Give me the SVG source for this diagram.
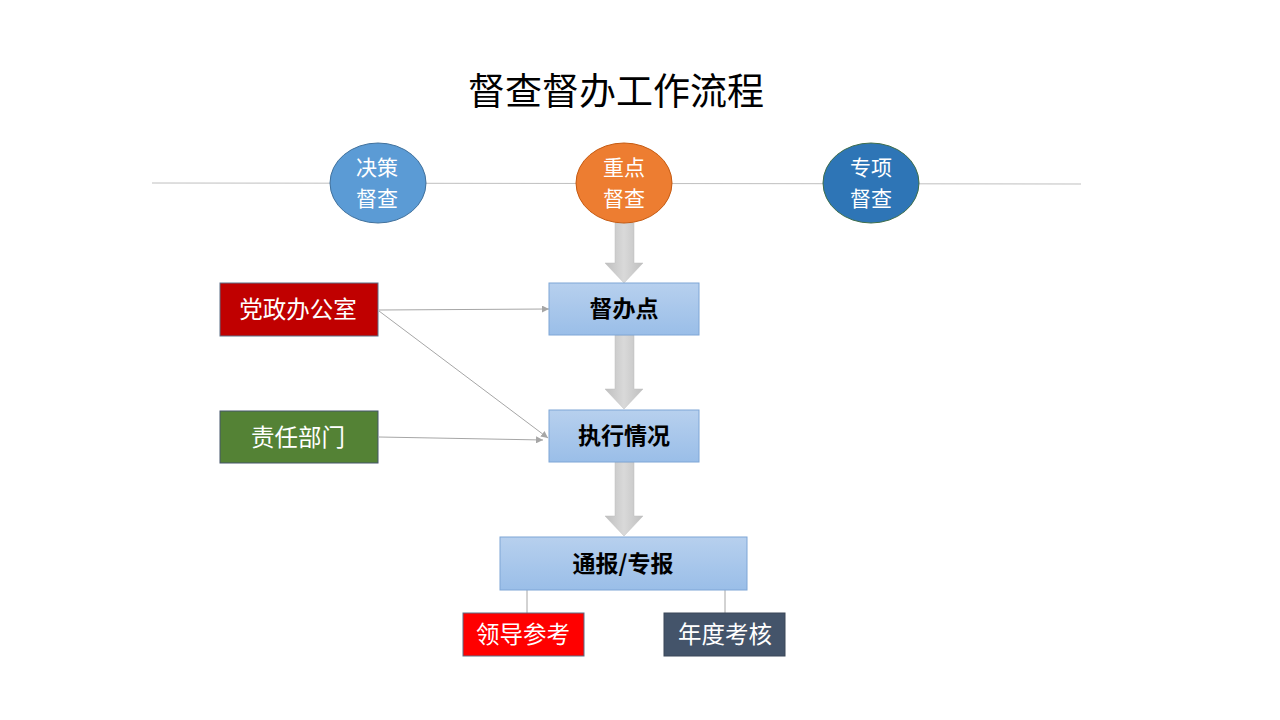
<svg xmlns="http://www.w3.org/2000/svg" width="1280" height="720" viewBox="0 0 1280 720">
<defs>
<linearGradient id="boxg" x1="0" y1="0" x2="0" y2="1">
<stop offset="0" stop-color="#B7D0EE"/>
<stop offset="1" stop-color="#9ABEE8"/>
</linearGradient>
<linearGradient id="arrg" x1="0" y1="0" x2="1" y2="0">
<stop offset="0" stop-color="#BFBFBF"/>
<stop offset="0.5" stop-color="#D9D9D9"/>
<stop offset="1" stop-color="#BFBFBF"/>
</linearGradient>
<marker id="ah" viewBox="0 0 10 10" refX="10" refY="5" markerWidth="7" markerHeight="7" markerUnits="userSpaceOnUse" orient="auto">
<path d="M0,0 L10,5 L0,10 z" fill="#A6A6A6"/>
</marker>
</defs>
<style>
.cjk{font-family:"Noto Sans CJK SC","Liberation Sans",sans-serif;}
.wt{fill:#FFFFFF;font-size:23.5px;}
.et{fill:#FFFFFF;font-size:21px;}
.bt{fill:#000000;font-size:23px;font-weight:bold;}
.box{fill:url(#boxg);stroke:#7EA6D6;stroke-width:1;}
.conn{stroke:#A6A6A6;stroke-width:1;fill:none;}
.big{fill:url(#arrg);stroke:#BFBFBF;stroke-width:0.5;}
</style>
<rect width="1280" height="720" fill="#FFFFFF"/>
<text x="616" y="105" text-anchor="middle" class="cjk" font-size="37" fill="#000000">督查督办工作流程</text>

<g id="connectors">
<line x1="152" y1="183" x2="1081" y2="184" stroke="#BFBFBF" stroke-width="1"/>
<path class="big" d="M615,223 L634,223 L634,263 L643,263 L624,283 L605,263 L615,263 z"/>
<path class="big" d="M615,335 L634,335 L634,389 L643,389 L624,409 L605,389 L615,389 z"/>
<path class="big" d="M615,462 L634,462 L634,516 L643,516 L624,536 L605,516 L615,516 z"/>
<line class="conn" x1="379" y1="310" x2="549" y2="309" marker-end="url(#ah)"/>
<line class="conn" x1="379" y1="311" x2="548" y2="438" marker-end="url(#ah)"/>
<line class="conn" x1="379" y1="437" x2="543" y2="440" marker-end="url(#ah)"/>
<line class="conn" x1="527" y1="590" x2="527" y2="613"/>
<line class="conn" x1="725" y1="590" x2="725" y2="613"/>
</g>

<g id="n-juece">
<ellipse cx="378" cy="183" rx="48" ry="40" fill="#5B9BD5" stroke="#41719C" stroke-width="1"/>
<text text-anchor="middle" class="cjk et"><tspan x="377" y="175">决策</tspan><tspan x="377" y="206">督查</tspan></text>
</g>
<g id="n-zhongdian">
<ellipse cx="624" cy="183" rx="48" ry="40" fill="#ED7D31" stroke="#C55A11" stroke-width="1"/>
<text text-anchor="middle" class="cjk et"><tspan x="624" y="175">重点</tspan><tspan x="624" y="206">督查</tspan></text>
</g>
<g id="n-zhuanxiang">
<ellipse cx="871" cy="183" rx="48" ry="40" fill="#2E75B6" stroke="#3F6E4A" stroke-width="1"/>
<text text-anchor="middle" class="cjk et"><tspan x="871" y="175">专项</tspan><tspan x="871" y="206">督查</tspan></text>
</g>

<g id="n-dangzheng">
<rect x="220" y="283" width="158" height="53" fill="#C00000" stroke="#5A6E86" stroke-width="1"/>
<text x="298" y="318" text-anchor="middle" class="cjk wt">党政办公室</text>
</g>
<g id="n-zeren">
<rect x="220" y="411" width="158" height="52" fill="#548235" stroke="#44546A" stroke-width="1"/>
<text x="298" y="446" text-anchor="middle" class="cjk wt">责任部门</text>
</g>

<g id="n-duban">
<rect class="box" x="549" y="283" width="150" height="52"/>
<text x="624" y="317" text-anchor="middle" class="cjk bt">督办点</text>
</g>
<g id="n-zhixing">
<rect class="box" x="549" y="410" width="150" height="52"/>
<text x="624" y="444" text-anchor="middle" class="cjk bt">执行情况</text>
</g>
<g id="n-tongbao">
<rect class="box" x="500" y="537" width="247" height="53"/>
<text x="623" y="572" text-anchor="middle" class="cjk bt">通报/专报</text>
</g>

<g id="n-lingdao">
<rect x="463" y="613" width="121" height="43" fill="#FF0000" stroke="#5A6E86" stroke-width="1"/>
<text x="523" y="643" text-anchor="middle" class="cjk wt">领导参考</text>
</g>
<g id="n-niandu">
<rect x="664" y="613" width="121" height="43" fill="#44546A" stroke="#3A4758" stroke-width="1"/>
<text x="725" y="643" text-anchor="middle" class="cjk wt">年度考核</text>
</g>
</svg>
